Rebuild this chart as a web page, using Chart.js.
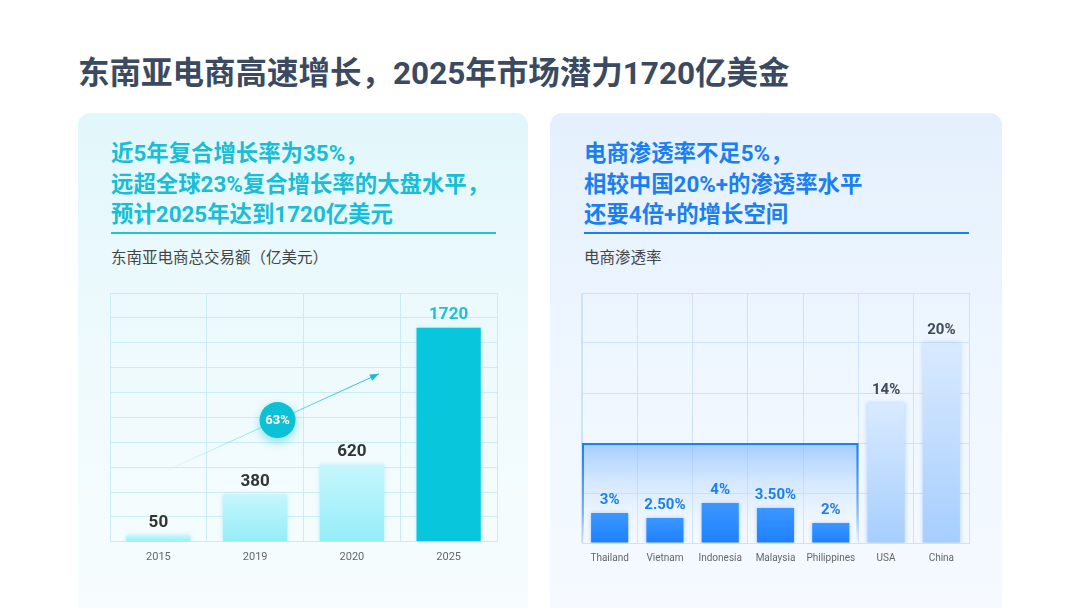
<!DOCTYPE html>
<html>
<head>
<meta charset="utf-8">
<script src="https://cdn.jsdelivr.net/npm/chart.js@4/dist/chart.umd.min.js"></script>
<style>
  body { margin: 0; width: 1080px; height: 608px; background: #ffffff; position: relative; overflow: hidden;
         font-family: Roboto, "Noto Sans CJK SC", sans-serif; }
  .title { position: absolute; left: 78px; top: 55px; font-size: 31.5px; font-weight: 700; color: #3b4a60; line-height: 38px; white-space: nowrap; }
  .card { position: absolute; top: 113px; height: 520px; border-radius: 12px; }
  #cardL { left: 78px; width: 450px; background: linear-gradient(180deg, #e2f7fb 0%, #eefafd 45%, #f8fdfe 100%); }
  #cardR { left: 550px; width: 452px; background: linear-gradient(180deg, #e4f0fd 0%, #eef6ff 45%, #f6faff 100%); }
  .head { position: absolute; top: 138px; font-size: 22.4px; font-weight: 700; line-height: 30.5px; white-space: nowrap; }
  #headL { left: 111px; color: #17bed6; }
  #headR { left: 584px; color: #1a7ff0; }
  .rule { position: absolute; top: 232px; height: 2px; width: 385px; }
  #ruleL { left: 111px; background: #1fc3d8; }
  #ruleR { left: 584px; background: #1a7ff0; }
  .sub { position: absolute; top: 248px; font-size: 15.5px; line-height: 20px; color: #454545; white-space: nowrap; }
  #subL { left: 111px; }
  #subR { left: 584px; }
  canvas { position: absolute; top: 280px; }
  #gmvChart { left: 80px; }
  #rateChart { left: 550px; }
</style>
</head>
<body>
<div class="title">东南亚电商高速增长，2025年市场潜力1720亿美金</div>
<div class="card" id="cardL"></div>
<div class="card" id="cardR"></div>
<div class="head" id="headL">近5年复合增长率为35%，<br>远超全球23%复合增长率的大盘水平，<br>预计2025年达到1720亿美元</div>
<div class="head" id="headR">电商渗透率不足5%，<br>相较中国20%+的渗透率水平<br>还要4倍+的增长空间</div>
<div class="rule" id="ruleL"></div>
<div class="rule" id="ruleR"></div>
<div class="sub" id="subL">东南亚电商总交易额（亿美元）</div>
<div class="sub" id="subR">电商渗透率</div>
<canvas id="gmvChart" width="440" height="310"></canvas>
<canvas id="rateChart" width="450" height="310"></canvas>
<script>
// left chart data
const years = ['2015', '2019', '2020', '2025'];
const gmv = [50, 380, 620, 1720];
const gmvMax = 2000;
const gmvStep = 200;
const cagrText = '63%';

// right chart data
const countries = ['Thailand', 'Vietnam', 'Indonesia', 'Malaysia', 'Philippines', 'USA', 'China'];
const penetration = [3, 2.5, 4, 3.5, 2, 14, 20];
const rateMax = 25;
const rateStep = 5;
const seaCount = 5;        // first five are south-east asia
const highlightLevel = 10; // height of the highlight box

function barGradient(ctx, top, bottom) {
    const chart = ctx.chart;
    const area = chart.chartArea;
    if (!area || ctx.parsed == null) return bottom;
    const yTop = chart.scales.y.getPixelForValue(ctx.parsed.y);
    const g = chart.ctx.createLinearGradient(0, yTop, 0, area.bottom);
    g.addColorStop(0, top);
    g.addColorStop(1, bottom);
    return g;
}

// soft edges on the bars
const softBars = {
    id: 'softBars',
    beforeDatasetsDraw(chart, args, opts) {
        chart.ctx.save();
        chart.ctx.shadowColor = opts.color;
        chart.ctx.shadowBlur = 4;
    },
    afterDatasetsDraw(chart) {
        chart.ctx.restore();
    }
};

const valueLabels = {
    id: 'valueLabels',
    afterDatasetsDraw(chart, args, opts) {
        const ctx = chart.ctx;
        const meta = chart.getDatasetMeta(0);
        const data = chart.data.datasets[0].data;
        ctx.save();
        ctx.font = opts.font;
        ctx.textAlign = 'center';
        ctx.textBaseline = 'alphabetic';
        meta.data.forEach((bar, i) => {
            ctx.fillStyle = opts.colors[i];
            ctx.fillText(opts.format(data[i]), bar.x, bar.y - 9);
        });
        ctx.restore();
    }
};

const cagrArrow = {
    id: 'cagrArrow',
    afterDatasetsDraw(chart) {
        const {ctx, scales: {x, y}} = chart;
        const x0 = x.getPixelForValue(0.05), y0 = y.getPixelForValue(560);
        const x1 = x.getPixelForValue(2.28), y1 = y.getPixelForValue(1350);
        ctx.save();
        const g = ctx.createLinearGradient(x0, y0, x1, y1);
        g.addColorStop(0, 'rgba(24,188,214,0)');
        g.addColorStop(1, 'rgba(24,188,214,1)');
        ctx.strokeStyle = g;
        ctx.lineWidth = 1;
        ctx.beginPath();
        ctx.moveTo(x0, y0);
        ctx.lineTo(x1, y1);
        ctx.stroke();
        // arrow head
        const a = Math.atan2(y1 - y0, x1 - x0);
        ctx.fillStyle = '#18bcd6';
        ctx.beginPath();
        ctx.moveTo(x1, y1);
        ctx.lineTo(x1 - 9 * Math.cos(a) + 3.5 * Math.sin(a), y1 - 9 * Math.sin(a) - 3.5 * Math.cos(a));
        ctx.lineTo(x1 - 9 * Math.cos(a) - 3.5 * Math.sin(a), y1 - 9 * Math.sin(a) + 3.5 * Math.cos(a));
        ctx.closePath();
        ctx.fill();
        // bubble
        const cx = x0 + 0.53 * (x1 - x0), cy = y0 + 0.53 * (y1 - y0);
        ctx.shadowColor = 'rgba(11,192,214,0.45)';
        ctx.shadowBlur = 10;
        ctx.shadowOffsetY = 4;
        ctx.fillStyle = '#0cc0d7';
        ctx.beginPath();
        ctx.arc(cx, cy, 18, 0, Math.PI * 2);
        ctx.fill();
        ctx.shadowColor = 'transparent';
        ctx.fillStyle = '#ffffff';
        ctx.font = 'bold 13px Roboto, sans-serif';
        ctx.textAlign = 'center';
        ctx.textBaseline = 'middle';
        ctx.fillText(cagrText, cx, cy + 1);
        ctx.restore();
    }
};

const highlightBox = {
    id: 'highlightBox',
    beforeDatasetsDraw(chart) {
        const {ctx, scales: {x, y}} = chart;
        const left = x.getPixelForValue(-0.5);
        const right = x.getPixelForValue(seaCount - 0.5);
        const top = y.getPixelForValue(highlightLevel);
        const bottom = y.getPixelForValue(0);
        ctx.save();
        const fill = ctx.createLinearGradient(0, top, 0, bottom);
        fill.addColorStop(0, 'rgba(120,180,255,0.65)');
        fill.addColorStop(0.6, 'rgba(200,225,255,0.3)');
        fill.addColorStop(1, 'rgba(255,255,255,0)');
        ctx.fillStyle = fill;
        ctx.fillRect(left, top, right - left, bottom - top);
        const edge = ctx.createLinearGradient(0, top, 0, bottom);
        edge.addColorStop(0, 'rgba(26,127,240,1)');
        edge.addColorStop(0.7, 'rgba(26,127,240,0.5)');
        edge.addColorStop(1, 'rgba(26,127,240,0)');
        ctx.strokeStyle = edge;
        ctx.lineWidth = 2;
        ctx.beginPath();
        ctx.moveTo(left + 1, bottom);
        ctx.lineTo(left + 1, top + 1);
        ctx.lineTo(right - 1, top + 1);
        ctx.lineTo(right - 1, bottom);
        ctx.stroke();
        ctx.restore();
    }
};

new Chart(document.getElementById('gmvChart'), {
    type: 'bar',
    data: {
        labels: years,
        datasets: [{
            data: gmv,
            backgroundColor: (ctx) => ctx.dataIndex === gmv.length - 1
                ? '#08c6dc'
                : barGradient(ctx, '#c6f6fc', '#95edf8'),
            borderWidth: 0,
            categoryPercentage: 0.8,
            barPercentage: 0.83
        }]
    },
    options: {
        responsive: false,
        animation: false,
        layout: { padding: { left: 30, right: 23, top: 13, bottom: 17 } },
        plugins: {
            legend: { display: false },
            tooltip: { enabled: false },
            softBars: { color: 'rgba(120,225,240,0.6)' },
            valueLabels: {
                font: 'bold 17px Roboto, sans-serif',
                colors: ['#333333', '#333333', '#333333', '#1cbfd7'],
                format: (v) => String(v)
            }
        },
        scales: {
            x: {
                grid: { color: '#c9edf3', drawTicks: false, offset: true },
                border: { color: '#c9edf3' },
                ticks: { color: '#666666', font: { size: 11, family: 'Roboto' }, padding: 9 }
            },
            y: {
                min: 0, max: gmvMax,
                grid: { color: '#c9edf3', drawTicks: false },
                border: { color: '#c9edf3' },
                ticks: { display: false, stepSize: gmvStep }
            }
        }
    },
    plugins: [softBars, valueLabels, cagrArrow]
});

new Chart(document.getElementById('rateChart'), {
    type: 'bar',
    data: {
        labels: countries,
        datasets: [{
            data: penetration,
            backgroundColor: (ctx) => ctx.dataIndex < seaCount
                ? barGradient(ctx, '#3b96ff', '#1e81fd')
                : barGradient(ctx, '#d9eaff', '#a6cefd'),
            borderWidth: 0,
            categoryPercentage: 0.8,
            barPercentage: 0.84
        }]
    },
    options: {
        responsive: false,
        animation: false,
        layout: { padding: { left: 32, right: 31, top: 13, bottom: 17 } },
        plugins: {
            legend: { display: false },
            tooltip: { enabled: false },
            softBars: { color: 'rgba(100,170,255,0.5)' },
            valueLabels: {
                font: 'bold 15px Roboto, sans-serif',
                colors: penetration.map((v, i) => i < seaCount ? '#1a7ff0' : '#3d4a5c'),
                format: (v) => Number.isInteger(v) ? v + '%' : v.toFixed(2) + '%'
            }
        },
        scales: {
            x: {
                grid: { color: '#d0e2fa', drawTicks: false, offset: true },
                border: { color: '#d0e2fa' },
                ticks: { color: '#666666', font: { size: 10, family: 'Roboto' }, padding: 9 }
            },
            y: {
                min: 0, max: rateMax,
                grid: { color: '#d0e2fa', drawTicks: false },
                border: { color: '#d0e2fa' },
                ticks: { display: false, stepSize: rateStep }
            }
        }
    },
    plugins: [highlightBox, softBars, valueLabels]
});
</script>
</body>
</html>
